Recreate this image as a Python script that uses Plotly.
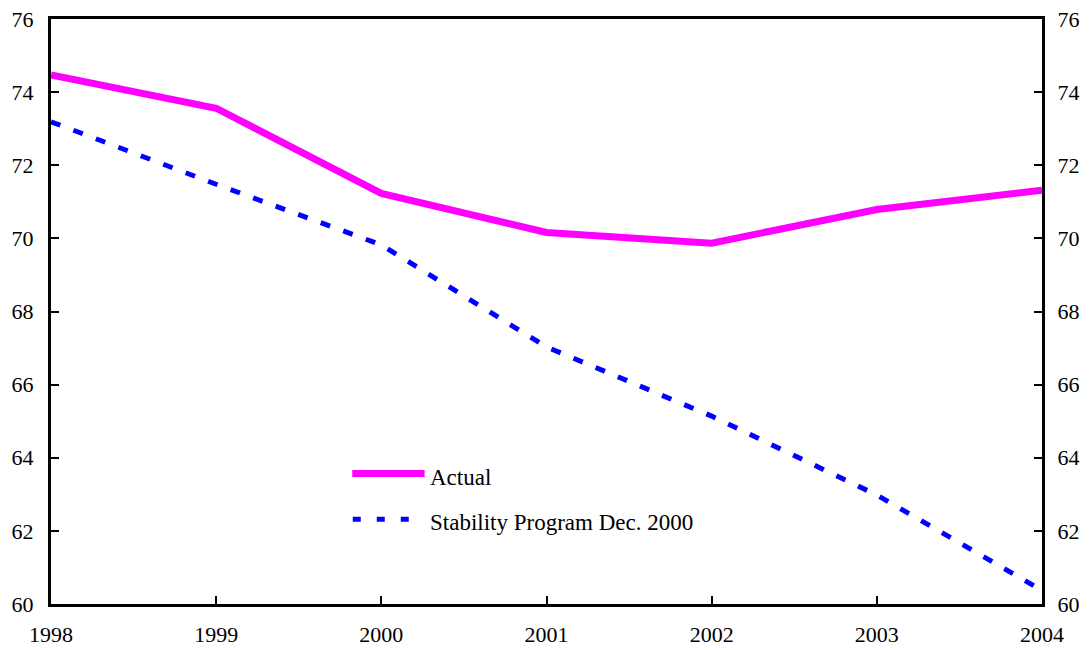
import plotly.graph_objects as go

years = [1998, 1999, 2000, 2001, 2002, 2003, 2004]
actual = [74.47, 73.56, 71.23, 70.16, 69.87, 70.79, 71.32]
stability_program = [73.19, 71.48, 69.82, 67.03, 65.14, 62.98, 60.37]
y_ticks = [60, 62, 64, 66, 68, 70, 72, 74, 76]
legend_labels = ["Actual", "Stability Program Dec. 2000"]

FONT = dict(family="Liberation Serif", size=22, color="black")
MAGENTA = "#FF00FF"
BLUE = "#0000FF"

fig = go.Figure()
fig.add_trace(go.Scatter(
    x=years, y=actual, mode="lines", name=legend_labels[0],
    line=dict(color=MAGENTA, width=7), showlegend=False,
))
fig.add_trace(go.Scatter(
    x=years, y=stability_program, mode="lines", name=legend_labels[1],
    line=dict(color=BLUE, width=5, dash="10px,14px"), showlegend=False,
    yaxis="y2",
))

# Hand-drawn legend block inside the plot area
fig.add_shape(type="line", xref="paper", yref="paper",
              x0=0.304, x1=0.377, y0=0.223, y1=0.223,
              line=dict(color=MAGENTA, width=7))
fig.add_shape(type="line", xref="paper", yref="paper",
              x0=0.3045, x1=0.368, y0=0.145, y1=0.145,
              line=dict(color=BLUE, width=5, dash="8px,16px"))
fig.add_annotation(xref="paper", yref="paper", x=0.380, y=0.217,
                   text=legend_labels[0], showarrow=False,
                   xanchor="left", yanchor="middle", font=dict(FONT, size=23))
fig.add_annotation(xref="paper", yref="paper", x=0.380, y=0.140,
                   text=legend_labels[1], showarrow=False,
                   xanchor="left", yanchor="middle", font=dict(FONT, size=23))

axis_common = dict(
    showgrid=False, zeroline=False, showline=True, linecolor="black",
    linewidth=3, ticks="inside", ticklen=8, tickwidth=2, tickcolor="black",
    tickfont=FONT, automargin=False,
)

fig.update_layout(
    width=1090, height=650,
    margin=dict(l=51, r=48, t=19, b=46),
    paper_bgcolor="white", plot_bgcolor="white",
    font=FONT,
    xaxis=dict(axis_common, range=[1998, 2004], tickvals=years,
               mirror=True, ticklabelstandoff=9),
    yaxis=dict(axis_common, range=[60, 76], tickvals=y_ticks,
               side="left", ticklabelstandoff=10),
    yaxis2=dict(axis_common, range=[60, 76], tickvals=y_ticks,
                side="right", overlaying="y", ticklabelstandoff=8),
)

fig.write_html("out.html")
